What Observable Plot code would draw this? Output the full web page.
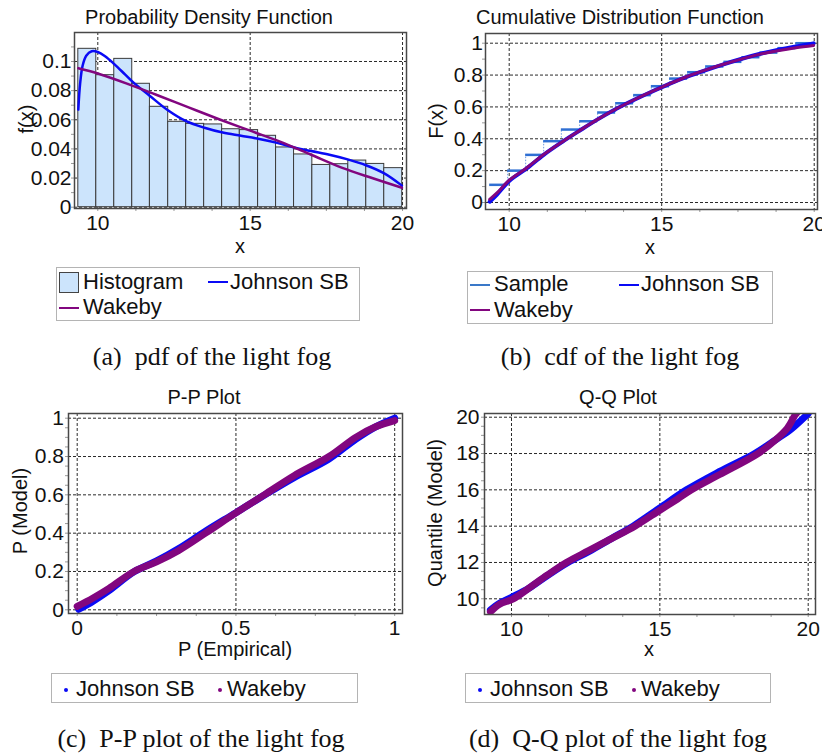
<!DOCTYPE html>
<html><head><meta charset="utf-8">
<script src="https://cdn.jsdelivr.net/npm/d3@7"></script>
<script src="https://cdn.jsdelivr.net/npm/@observablehq/plot@0.6"></script>
<style>
body{margin:0;background:#fff;}
#root{position:relative;width:822px;height:755px;overflow:hidden;font-family:"Liberation Sans",Arial,sans-serif;color:#111;}
.abs{position:absolute;white-space:nowrap;line-height:1;}
.box{position:absolute;border:1px solid #b4b4b4;box-sizing:border-box;background:#fff;}
.svgp{position:absolute;}
</style></head><body><div id="root"></div>
<script>
// ---------- DATA ----------
const binEdges = [9.36, 9.95, 10.54, 11.13, 11.71, 12.31, 12.90, 13.49, 14.08, 14.66, 15.26, 15.85, 16.44, 17.04, 17.63, 18.22, 18.81, 19.40, 19.99];
const histValues = [0.1087, 0.0906, 0.1018, 0.0847, 0.0689, 0.0586, 0.0572, 0.0568, 0.0535, 0.0529, 0.0490, 0.0410, 0.0362, 0.0290, 0.0295, 0.0320, 0.0297, 0.0268];

const pdfJohnsonX = [9.36, 9.42, 9.5, 9.62, 9.8, 10.0, 10.25, 10.55, 10.9, 11.2, 11.7, 12.3, 12.9, 13.5, 14.1, 14.7, 15.3, 15.85, 16.45, 17.0, 17.6, 18.2, 18.8, 19.4, 19.98];
const pdfJohnsonY = [0.067, 0.085, 0.097, 0.104, 0.107, 0.1065, 0.1035, 0.098, 0.091, 0.085, 0.0765, 0.0665, 0.059, 0.0545, 0.0512, 0.049, 0.0468, 0.0443, 0.041, 0.0385, 0.036, 0.0328, 0.0288, 0.0232, 0.0148];
const pdfWakebyX = [9.36, 10.0, 11.0, 12.0, 13.0, 14.0, 15.0, 16.0, 17.0, 18.0, 19.0, 19.98];
const pdfWakebyY = [0.0954, 0.0918, 0.0845, 0.0765, 0.0683, 0.0602, 0.0525, 0.0448, 0.0360, 0.0272, 0.0200, 0.0133];

const cdfSample = [0.111, 0.200, 0.299, 0.385, 0.458, 0.510, 0.565, 0.623, 0.674, 0.730, 0.778, 0.818, 0.854, 0.883, 0.912, 0.941, 0.969, 1.0];
const cdfJohnsonX = [9.36, 9.6, 10.0, 10.56, 11.12, 11.72, 12.3, 12.9, 13.5, 14.1, 14.65, 15.25, 15.84, 16.4, 17.0, 17.6, 18.2, 18.8, 19.4, 19.98];
const cdfJohnsonY = [0.005, 0.05, 0.135, 0.212, 0.298, 0.378, 0.45, 0.522, 0.587, 0.645, 0.694, 0.745, 0.79, 0.828, 0.866, 0.901, 0.932, 0.958, 0.98, 0.999];
const cdfWakebyX = [9.36, 9.6, 10.0, 10.56, 11.12, 11.72, 12.3, 12.9, 13.5, 14.1, 14.65, 15.25, 15.84, 16.4, 17.0, 17.6, 18.2, 18.8, 19.4, 19.98];
const cdfWakebyY = [0.02, 0.06, 0.14, 0.215, 0.30, 0.379, 0.451, 0.522, 0.587, 0.645, 0.694, 0.745, 0.791, 0.829, 0.866, 0.9, 0.93, 0.953, 0.972, 0.986];

const ppJohnsonX = [0.005, 0.05, 0.1, 0.179, 0.25, 0.32, 0.404, 0.5, 0.589, 0.683, 0.793, 0.877, 0.94, 1.0];
const ppJohnsonY = [0.003, 0.045, 0.1, 0.198, 0.255, 0.32, 0.41, 0.507, 0.598, 0.69, 0.787, 0.89, 0.955, 1.0];
const ppWakebyX = [0.0, 0.05, 0.1, 0.179, 0.25, 0.32, 0.404, 0.5, 0.589, 0.683, 0.793, 0.877, 0.94, 1.0];
const ppWakebyY = [0.018, 0.062, 0.112, 0.2, 0.25, 0.31, 0.4, 0.506, 0.6, 0.7, 0.8, 0.9, 0.955, 0.987];

const qqJohnsonX = [9.29, 9.6, 10.0, 10.6, 11.2, 11.9, 12.6, 13.4, 14.1, 15.0, 15.9, 17.0, 18.2, 18.9, 19.44, 20.0];
const qqJohnsonY = [9.38, 9.75, 10.08, 10.6, 11.27, 12.0, 12.6, 13.35, 14.0, 15.0, 16.0, 17.0, 18.0, 18.75, 19.36, 20.2];
const qqWakebyX = [9.29, 9.6, 10.06, 10.6, 11.2, 11.85, 12.6, 13.4, 14.16, 15.0, 15.6, 16.07, 17.0, 18.31, 18.9, 19.3, 19.55, 19.62];
const qqWakebyY = [9.28, 9.7, 10.0, 10.6, 11.3, 12.0, 12.65, 13.34, 14.0, 14.88, 15.5, 16.0, 16.83, 18.0, 18.75, 19.4, 20.1, 20.25];

const ticksA_x = [10, 15, 20], labelsA_x = ["10", "15", "20"];
const ticksA_y = [0, 0.02, 0.04, 0.06, 0.08, 0.1], labelsA_y = ["0", "0.02", "0.04", "0.06", "0.08", "0.1"];
const ticksB_y = [0, 0.2, 0.4, 0.6, 0.8, 1], labelsB_y = ["0", "0.2", "0.4", "0.6", "0.8", "1"];
const ticksC_x = [0, 0.5, 1], labelsC_x = ["0", "0.5", "1"];
const ticksD_y = [10, 12, 14, 16, 18, 20], labelsD_y = ["10", "12", "14", "16", "18", "20"];

// ---------- STYLE ----------
const SANS = '"Liberation Sans", Arial, Helvetica, sans-serif';
const SERIF = '"Liberation Serif", "Times New Roman", serif';
const BLUE = "#0a0af5", PURPLE = "#82067f", SAMPLE = "#2f6fd3", HISTFILL = "#cce4fc";
const root = document.getElementById("root");

const zip = (xs, ys) => xs.map((x, i) => ({x, y: ys[i]}));
const range = (a, b, s) => { const r = []; for (let i = 0; a + i * s <= b + 1e-9; i++) r.push(+(a + i * s).toFixed(6)); return r; };
const fmt = (ticks, labels) => d => labels[ticks.findIndex(t => Math.abs(t - d) < 1e-9)] ?? "";

function panel(o) {
  const svg = Plot.plot({
    width: o.width, height: o.height,
    marginLeft: o.m[0], marginRight: o.m[1], marginTop: o.m[2], marginBottom: o.m[3],
    x: {domain: o.xDomain}, y: {domain: o.yDomain},
    style: {fontFamily: SANS, fontSize: "21px", color: "#111", background: "transparent", overflow: "visible"},
    marks: [
      Plot.gridX(o.xTicks, {stroke: "#2a2a2a", strokeOpacity: 1, strokeDasharray: "3,2", strokeWidth: 1}),
      Plot.gridY(o.yTicks, {stroke: "#2a2a2a", strokeOpacity: 1, strokeDasharray: "3,2", strokeWidth: 1}),
      ...o.marks,
      Plot.axisX(o.xMinor, {tickSize: 3, tickFormat: () => "", stroke: "#9a9a9a", label: null}),
      Plot.axisY(o.yMinor, {tickSize: 3, tickFormat: () => "", stroke: "#9a9a9a", label: null}),
      Plot.axisX(o.xTicks, {tickSize: 0, tickPadding: 6.5, tickFormat: fmt(o.xTicks, o.xLabels), label: null, fontSize: 21}),
      Plot.axisY(o.yTicks, {tickSize: 0, tickPadding: o.yPad, tickFormat: fmt(o.yTicks, o.yLabels), label: null, fontSize: 21}),
      Plot.frame({stroke: "#484848", strokeWidth: 1.5})
    ]
  });
  svg.classList.add("svgp");
  svg.style.left = o.left + "px"; svg.style.top = o.top + "px";
  root.appendChild(svg);
}

function txt(s, x, baseline, {size = 20, family = SANS, anchor = "middle", html = false} = {}) {
  const d = document.createElement("div");
  d.className = "abs";
  if (html) d.innerHTML = s; else d.textContent = s;
  d.style.fontSize = size + "px"; d.style.fontFamily = family;
  const asc = family === SERIF ? 0.8375 : 0.8465;
  d.style.top = (baseline - asc * size) + "px";
  d.style.left = x + "px";
  if (anchor === "middle") d.style.transform = "translateX(-50%)";
  root.appendChild(d);
}
function vtxt(s, cx, cy, size = 20) {
  const d = document.createElement("div");
  d.className = "abs"; d.textContent = s;
  d.style.fontSize = size + "px"; d.style.fontFamily = SANS;
  d.style.left = cx + "px"; d.style.top = cy + "px";
  d.style.transform = "translate(-50%,-50%) rotate(-90deg)";
  root.appendChild(d);
}
function box(x, y, w, h) {
  const d = document.createElement("div");
  d.className = "box";
  Object.assign(d.style, {left: x + "px", top: y + "px", width: w + "px", height: h + "px"});
  root.appendChild(d);
}
function lineSw(x, y, color) {
  const d = document.createElement("div");
  Object.assign(d.style, {position: "absolute", left: x + "px", top: (y - 1) + "px", width: "20px", height: "2px", background: color});
  root.appendChild(d);
}
function rectSw(x, y) {
  const d = document.createElement("div");
  Object.assign(d.style, {position: "absolute", left: x + "px", top: y + "px", width: "20px", height: "21px", background: HISTFILL, border: "1px solid #444", boxSizing: "border-box"});
  root.appendChild(d);
}
function dotSw(x, y, color) {
  const d = document.createElement("div");
  Object.assign(d.style, {position: "absolute", left: (x - 2) + "px", top: (y - 2) + "px", width: "4px", height: "4px", borderRadius: "2px", background: color});
  root.appendChild(d);
}

// ---------- PANEL A: PDF ----------
const hist = histValues.map((v, i) => ({x1: binEdges[i], x2: binEdges[i + 1], v}));
panel({
  left: 0, top: 0, width: 411, height: 240, m: [74, 5, 32, 32],
  xDomain: [9.235, 20.13], yDomain: [-0.0009, 0.1199],
  xTicks: ticksA_x, xLabels: labelsA_x, yTicks: ticksA_y, yLabels: labelsA_y,
  xMinor: range(10, 20, 1.25), yMinor: range(0, 0.11, 0.01), yPad: 3,
  marks: [
    Plot.rectY(hist, {x1: "x1", x2: "x2", y: "v", fill: HISTFILL, stroke: "#3a3a3a", strokeWidth: 1}),
    Plot.line(zip(pdfJohnsonX, pdfJohnsonY), {x: "x", y: "y", stroke: BLUE, strokeWidth: 2.5, curve: "catmull-rom"}),
    Plot.line(zip(pdfWakebyX, pdfWakebyY), {x: "x", y: "y", stroke: PURPLE, strokeWidth: 2.5, curve: "catmull-rom"})
  ]
});
txt("Probability Density Function", 209, 24);
vtxt("f(x)", 26, 119);
txt("x", 240, 253);
box(56, 267, 304, 54);
rectSw(59, 272); txt("Histogram", 83, 290, {size: 22, anchor: "start"});
lineSw(208, 282, BLUE); txt("Johnson SB", 230, 290, {size: 22, anchor: "start"});
lineSw(59, 308, PURPLE); txt("Wakeby", 83, 315, {size: 22, anchor: "start"});
txt('(a)<span style="display:inline-block;width:0.5em"></span>pdf of the light fog', 212, 366, {size: 26, family: SERIF, html: true});

// ---------- PANEL B: CDF ----------
const steps = cdfSample.map((v, i) => ({x1: binEdges[i], x2: binEdges[i + 1], v}));
const risers = cdfSample.slice(1).map((v, i) => ({x: binEdges[i + 1], a: cdfSample[i], b: v}));
panel({
  left: 411, top: 0, width: 411, height: 240, m: [74, 5, 33, 31],
  xDomain: [9.223, 20.108], yDomain: [-0.0439, 1.0609],
  xTicks: ticksA_x, xLabels: labelsA_x, yTicks: ticksB_y, yLabels: labelsB_y,
  xMinor: range(10, 20, 1.25), yMinor: range(0, 1, 0.1), yPad: 2.5,
  marks: [
    Plot.ruleX(risers, {x: "x", y1: "a", y2: "b", stroke: "#6f9be0", strokeDasharray: "1.5,1.5", strokeWidth: 1}),
    Plot.ruleY(steps, {x1: "x1", x2: "x2", y: "v", stroke: SAMPLE, strokeWidth: 2.5}),
    Plot.line(zip(cdfJohnsonX, cdfJohnsonY), {x: "x", y: "y", stroke: BLUE, strokeWidth: 4, curve: "catmull-rom"}),
    Plot.line(zip(cdfWakebyX, cdfWakebyY), {x: "x", y: "y", stroke: PURPLE, strokeWidth: 3, curve: "catmull-rom"})
  ]
});
txt("Cumulative Distribution Function", 620, 24);
vtxt("F(x)", 436, 121);
txt("x", 650, 254);
box(467, 271, 306, 53);
lineSw(470, 285, "#3a78c8"); txt("Sample", 494, 292, {size: 22, anchor: "start"});
lineSw(619, 285, BLUE); txt("Johnson SB", 641, 292, {size: 22, anchor: "start"});
lineSw(470, 310, PURPLE); txt("Wakeby", 494, 318, {size: 22, anchor: "start"});
txt('(b)<span style="display:inline-block;width:0.5em"></span>cdf of the light fog', 620, 366, {size: 26, family: SERIF, html: true});

// ---------- PANEL C: P-P ----------
panel({
  left: 0, top: 380, width: 411, height: 260, m: [68, 9, 33, 27],
  xDomain: [-0.0274, 1.0246], yDomain: [-0.0193, 1.0245],
  xTicks: ticksC_x, xLabels: labelsC_x, yTicks: ticksB_y, yLabels: labelsB_y,
  xMinor: range(0, 1, 0.125), yMinor: range(0, 1, 0.05), yPad: 4.5,
  marks: [
    Plot.line(zip(ppJohnsonX, ppJohnsonY), {x: "x", y: "y", stroke: BLUE, strokeWidth: 7, curve: "catmull-rom", strokeLinecap: "round"}),
    Plot.line(zip(ppWakebyX, ppWakebyY), {x: "x", y: "y", stroke: PURPLE, strokeWidth: 7, curve: "catmull-rom", strokeLinecap: "round"})
  ]
});
txt("P-P Plot", 204, 404);
vtxt("P (Model)", 20, 511);
txt("P (Empirical)", 235, 656);
box(51, 673, 307, 30);
dotSw(65.5, 690, BLUE); txt("Johnson SB", 76, 697, {size: 22, anchor: "start"});
dotSw(220, 690, PURPLE); txt("Wakeby", 227, 697, {size: 22, anchor: "start"});
txt('(c)<span style="display:inline-block;width:0.5em"></span>P-P plot of the light fog', 201, 748, {size: 26, family: SERIF, html: true});

// ---------- PANEL D: Q-Q ----------
panel({
  left: 411, top: 380, width: 411, height: 260, m: [73, 7, 33, 26],
  xDomain: [9.09, 20.246], yDomain: [9.135, 20.204],
  xTicks: ticksA_x, xLabels: labelsA_x, yTicks: ticksD_y, yLabels: labelsD_y,
  xMinor: range(10, 20, 1.25), yMinor: range(9.5, 20, 0.5), yPad: 5,
  marks: [
    Plot.line(zip(qqJohnsonX, qqJohnsonY), {x: "x", y: "y", stroke: BLUE, strokeWidth: 7, curve: "catmull-rom", strokeLinecap: "round", clip: true}),
    Plot.line(zip(qqWakebyX, qqWakebyY), {x: "x", y: "y", stroke: PURPLE, strokeWidth: 7, curve: "catmull-rom", strokeLinecap: "round", clip: true})
  ]
});
txt("Q-Q Plot", 618, 404);
vtxt("Quantile (Model)", 435, 513);
txt("x", 649, 656);
box(465, 673, 306, 30);
dotSw(479.5, 690, BLUE); txt("Johnson SB", 490, 697, {size: 22, anchor: "start"});
dotSw(634, 690, PURPLE); txt("Wakeby", 641, 697, {size: 22, anchor: "start"});
txt('(d)<span style="display:inline-block;width:0.5em"></span>Q-Q plot of the light fog', 618, 748, {size: 26, family: SERIF, html: true});
</script>
</body></html>
